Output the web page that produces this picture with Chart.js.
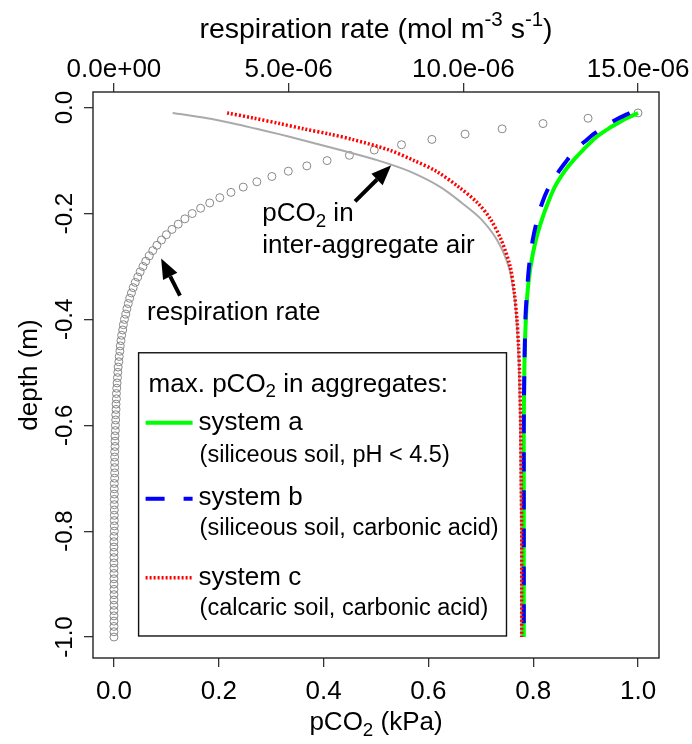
<!DOCTYPE html>
<html>
<head>
<meta charset="utf-8">
<script src="https://cdn.jsdelivr.net/npm/chart.js@4.4.1/dist/chart.umd.min.js"></script>
<style>
  html, body { margin: 0; padding: 0; background: #fff; }
</style>
</head>
<body>
<canvas id="graphCanvas" width="692" height="744"></canvas>
<script>
// respiration rate profile (10^-6 mol m-3 s-1) at every cm of depth
var respDepth = [
  -0.01, -0.02, -0.03, -0.04, -0.05, -0.06, -0.07, -0.08, -0.09, -0.10,
  -0.11, -0.12, -0.13, -0.14, -0.15, -0.16, -0.17, -0.18, -0.19, -0.20,
  -0.21, -0.22, -0.23, -0.24, -0.25, -0.26, -0.27, -0.28, -0.29, -0.30,
  -0.31, -0.32, -0.33, -0.34, -0.35, -0.36, -0.37, -0.38, -0.39, -0.40,
  -0.41, -0.42, -0.43, -0.44, -0.45, -0.46, -0.47, -0.48, -0.49, -0.50,
  -0.51, -0.52, -0.53, -0.54, -0.55, -0.56, -0.57, -0.58, -0.59, -0.60,
  -0.61, -0.62, -0.63, -0.64, -0.65, -0.66, -0.67, -0.68, -0.69, -0.70,
  -0.71, -0.72, -0.73, -0.74, -0.75, -0.76, -0.77, -0.78, -0.79, -0.80,
  -0.81, -0.82, -0.83, -0.84, -0.85, -0.86, -0.87, -0.88, -0.89, -0.90,
  -0.91, -0.92, -0.93, -0.94, -0.95, -0.96, -0.97, -0.98, -0.99, -1.00
];
var respRate = [
  15.00, 13.57, 12.28, 11.11, 10.05, 9.10, 8.23, 7.45, 6.74, 6.10,
  5.52, 4.99, 4.52, 4.09, 3.70, 3.35, 3.03, 2.74, 2.48, 2.24,
  2.03, 1.84, 1.66, 1.50, 1.36, 1.23, 1.11, 1.01, 0.91, 0.83,
  0.75, 0.68, 0.61, 0.55, 0.50, 0.45, 0.41, 0.37, 0.34, 0.30,
  0.27, 0.25, 0.22, 0.20, 0.18, 0.17, 0.15, 0.14, 0.12, 0.11,
  0.10, 0.09, 0.08, 0.07, 0.07, 0.06, 0.06, 0.05, 0.05, 0.04,
  0.04, 0.03, 0.03, 0.03, 0.02, 0.02, 0.02, 0.02, 0.02, 0.02,
  0.01, 0.01, 0.01, 0.01, 0.01, 0.01, 0.01, 0.01, 0.01, 0.01,
  0.00, 0.00, 0.00, 0.00, 0.00, 0.00, 0.00, 0.00, 0.00, 0.00,
  0.00, 0.00, 0.00, 0.00, 0.00, 0.00, 0.00, 0.00, 0.00, 0.00
];

// pCO2 profiles (kPa)
var lineDepth = [-0.01, -0.02, -0.03, -0.04, -0.05, -0.06, -0.08, -0.10, -0.12, -0.15, -0.18, -0.21,
                 -0.25, -0.30, -0.35, -0.40, -0.45, -0.50, -0.60, -0.70, -0.80, -0.90, -1.00];
var pco2Air     = [0.112, 0.178, 0.228, 0.272, 0.315, 0.355, 0.432, 0.505, 0.563, 0.623, 0.664, 0.700,
                   0.731, 0.753, 0.763, 0.768, 0.771, 0.773, 0.775, 0.776, 0.777, 0.777, 0.777];
var pco2SystemA = [1.000, 0.978, 0.960, 0.943, 0.928, 0.915, 0.895, 0.876, 0.860, 0.841, 0.828, 0.817,
                   0.805, 0.795, 0.789, 0.786, 0.784, 0.783, 0.782, 0.782, 0.782, 0.782, 0.782];
var pco2SystemB = [0.984, 0.963, 0.945, 0.929, 0.915, 0.903, 0.880, 0.864, 0.849, 0.830, 0.817, 0.808,
                   0.799, 0.792, 0.788, 0.785, 0.784, 0.783, 0.782, 0.782, 0.782, 0.782, 0.782];
var pco2SystemC = [0.216, 0.268, 0.316, 0.362, 0.412, 0.455, 0.525, 0.573, 0.615, 0.658, 0.694, 0.718,
                   0.739, 0.756, 0.764, 0.769, 0.772, 0.774, 0.776, 0.777, 0.778, 0.778, 0.778];

// axis ticks
var pco2Ticks = [0, 0.2, 0.4, 0.6, 0.8, 1.0];
var pco2TickLabels = ['0.0', '0.2', '0.4', '0.6', '0.8', '1.0'];
var respTicks = [0, 5, 10, 15];
var respTickLabels = ['0.0e+00', '5.0e-06', '10.0e-06', '15.0e-06'];
var depthTicks = [0, -0.2, -0.4, -0.6, -0.8, -1.0];
var depthTickLabels = ['0.0', '-0.2', '-0.4', '-0.6', '-0.8', '-1.0'];

var FONT = "'Liberation Sans', Arial, sans-serif";

function toPoints(xs, ys) {
    var pts = [];
    for (var i in xs) {
        pts.push({x: xs[i], y: ys[i]});
    }
    return pts;
}

// text with sub/superscript pieces: [[text, 'sub'|'sup'|undefined], ...]
function drawRich(ctx, parts, x, y, size, align) {
    var total = 0;
    var pieces = parts.map(function(p) {
        var s = p[1] ? size * 0.72 : size;
        ctx.font = s + 'px ' + FONT;
        var w = ctx.measureText(p[0]).width;
        total += w;
        var dy = p[1] === 'sub' ? size * 0.22 : (p[1] === 'sup' ? -size * 0.42 : 0);
        return {t: p[0], s: s, w: w, dy: dy};
    });
    var cx = align === 'center' ? x - total / 2 : x;
    ctx.textAlign = 'left';
    ctx.textBaseline = 'alphabetic';
    pieces.forEach(function(p) {
        ctx.font = p.s + 'px ' + FONT;
        ctx.fillText(p.t, cx, y + p.dy);
        cx += p.w;
    });
}

function drawArrow(ctx, x0, y0, x1, y1) {
    var ang = Math.atan2(y1 - y0, x1 - x0);
    var len = 20, half = 8;
    var bx = x1 - len * Math.cos(ang), by = y1 - len * Math.sin(ang);
    ctx.strokeStyle = '#000';
    ctx.lineWidth = 4;
    ctx.beginPath();
    ctx.moveTo(x0, y0);
    ctx.lineTo(bx, by);
    ctx.stroke();
    ctx.fillStyle = '#000';
    ctx.beginPath();
    ctx.moveTo(x1, y1);
    ctx.lineTo(bx + half * Math.sin(ang), by - half * Math.cos(ang));
    ctx.lineTo(bx - half * Math.sin(ang), by + half * Math.cos(ang));
    ctx.closePath();
    ctx.fill();
}

function legendLine(ctx, x0, x1, y, color, dash, width) {
    ctx.strokeStyle = color;
    ctx.lineWidth = width;
    ctx.setLineDash(dash);
    ctx.beginPath();
    ctx.moveTo(x0, y);
    ctx.lineTo(x1, y);
    ctx.stroke();
    ctx.setLineDash([]);
}

// frame, axis titles, labels with arrows and the legend box
var decor = {
    id: 'decor',
    afterDatasetsDraw: function(chart) {
        var ctx = chart.ctx, a = chart.chartArea;
        var sx = chart.scales.x, sy = chart.scales.y;
        var px = function(v) { return sx.getPixelForValue(v); };
        var py = function(v) { return sy.getPixelForValue(v); };
        var midX = (a.left + a.right) / 2;

        ctx.save();
        ctx.strokeStyle = '#222';
        ctx.lineWidth = 1.4;
        ctx.strokeRect(a.left, a.top, a.right - a.left, a.bottom - a.top);

        ctx.fillStyle = '#000';
        drawRich(ctx, [['respiration rate (mol m'], ['-3', 'sup'], [' s'], ['-1', 'sup'], [')']], midX, a.top - 54, 28.5, 'center');
        drawRich(ctx, [['pCO'], ['2', 'sub'], [' (kPa)']], midX, a.bottom + 72, 26, 'center');

        ctx.save();
        ctx.translate(a.left - 56, (a.top + a.bottom) / 2);
        ctx.rotate(-Math.PI / 2);
        drawRich(ctx, [['depth (m)']], 0, 0, 26, 'center');
        ctx.restore();

        // labels inside the plot
        drawRich(ctx, [['pCO'], ['2', 'sub'], [' in']], px(0.283), py(-0.215), 26, 'left');
        drawRich(ctx, [['inter-aggregate air']], px(0.283), py(-0.275), 26, 'left');
        drawArrow(ctx, px(0.460), py(-0.177), px(0.529), py(-0.109));
        drawRich(ctx, [['respiration rate']], px(0.063), py(-0.402), 26, 'left');
        drawArrow(ctx, px(0.126), py(-0.355), px(0.090), py(-0.285));

        // legend
        var L = px(0.047), R = px(0.749), T = py(-0.463), B = py(-0.998);
        ctx.fillStyle = '#fff';
        ctx.fillRect(L, T, R - L, B - T);
        ctx.strokeStyle = '#111';
        ctx.lineWidth = 1.4;
        ctx.strokeRect(L, T, R - L, B - T);
        ctx.fillStyle = '#000';
        drawRich(ctx, [['max. pCO'], ['2', 'sub'], [' in aggregates:']], L + 10, T + 39, 26, 'left');

        legendLine(ctx, L + 7, L + 54, T + 70, '#00ff00', [], 4);
        drawRich(ctx, [['system a']], L + 60, T + 77, 26, 'left');
        drawRich(ctx, [['(siliceous soil, pH < 4.5)']], L + 61, T + 109, 23.5, 'left');

        legendLine(ctx, L + 7, L + 54, T + 146, '#0000ff', [19, 19], 4);
        drawRich(ctx, [['system b']], L + 60, T + 152, 26, 'left');
        drawRich(ctx, [['(siliceous soil, carbonic acid)']], L + 61, T + 182, 23.5, 'left');

        legendLine(ctx, L + 7, L + 54, T + 225, '#ff0000', [2, 2], 3.5);
        drawRich(ctx, [['system c']], L + 60, T + 232, 26, 'left');
        drawRich(ctx, [['(calcaric soil, carbonic acid)']], L + 61, T + 262, 23.5, 'left');
        ctx.restore();
    }
};

function fixedTicks(values) {
    return function(scale) {
        scale.ticks = values.map(function(v) { return {value: v}; });
    };
}

var tickGrid = {drawOnChartArea: false, drawTicks: true, tickLength: 9, color: '#333', lineWidth: 1.3};

var profileChart = new Chart(document.getElementById('graphCanvas'), {
    type: 'scatter',
    data: {
        datasets: [{
                label: 'system c',
                data: toPoints(pco2SystemC, lineDepth),
                showLine: true,
                borderColor: '#ff0000',
                borderWidth: 3.5,
                borderDash: [2, 2],
                pointRadius: 0,
                tension: 0.3,
                order: 0
            },
            {
                label: 'system b',
                data: toPoints(pco2SystemB, lineDepth),
                showLine: true,
                borderColor: '#0000ff',
                borderWidth: 4,
                borderDash: [19, 19],
                pointRadius: 0,
                tension: 0.3,
                order: 1
            },
            {
                label: 'system a',
                data: toPoints(pco2SystemA, lineDepth),
                showLine: true,
                borderColor: '#00ff00',
                borderWidth: 4,
                pointRadius: 0,
                tension: 0.3,
                order: 2
            },
            {
                label: 'inter-aggregate air',
                data: toPoints(pco2Air, lineDepth),
                showLine: true,
                borderColor: '#aaaaaa',
                borderWidth: 2,
                pointRadius: 0,
                tension: 0.3,
                order: 3
            },
            {
                label: 'respiration rate',
                data: toPoints(respRate, respDepth),
                xAxisID: 'x2',
                showLine: false,
                pointStyle: 'circle',
                pointRadius: 4,
                pointBorderWidth: 1,
                pointBorderColor: '#888888',
                pointBackgroundColor: 'rgba(0,0,0,0)',
                order: 4
            }
        ]
    },
    options: {
        responsive: false,
        animation: false,
        layout: {padding: {left: 0, right: 33, top: 0, bottom: 0}},
        plugins: {
            legend: {display: false},
            tooltip: {enabled: false}
        },
        scales: {
            x: {
                type: 'linear',
                position: 'bottom',
                min: -0.04,
                max: 1.04,
                afterBuildTicks: fixedTicks(pco2Ticks),
                afterFit: function(scale) { scale.height = 86; },
                grid: tickGrid,
                border: {display: false},
                ticks: {
                    padding: 9,
                    color: '#000',
                    font: {family: FONT, size: 26},
                    maxRotation: 0,
                    autoSkip: false,
                    callback: function(value, index) { return pco2TickLabels[index]; }
                }
            },
            x2: {
                type: 'linear',
                position: 'top',
                min: -0.6,
                max: 15.6,
                afterBuildTicks: fixedTicks(respTicks),
                afterFit: function(scale) { scale.height = 92; },
                grid: tickGrid,
                border: {display: false},
                ticks: {
                    padding: -2,
                    color: '#000',
                    font: {family: FONT, size: 26},
                    maxRotation: 0,
                    autoSkip: false,
                    callback: function(value, index) { return respTickLabels[index]; }
                }
            },
            y: {
                type: 'linear',
                position: 'left',
                min: -1.0396,
                max: 0.0296,
                afterBuildTicks: fixedTicks(depthTicks),
                afterFit: function(scale) { scale.width = 93; },
                grid: tickGrid,
                border: {display: false},
                ticks: {
                    padding: -2,
                    crossAlign: 'center',
                    minRotation: 90,
                    maxRotation: 90,
                    color: '#000',
                    font: {family: FONT, size: 24},
                    autoSkip: false,
                    callback: function(value, index) { return depthTickLabels[index]; }
                }
            }
        }
    },
    plugins: [decor]
});
</script>
</body>
</html>
